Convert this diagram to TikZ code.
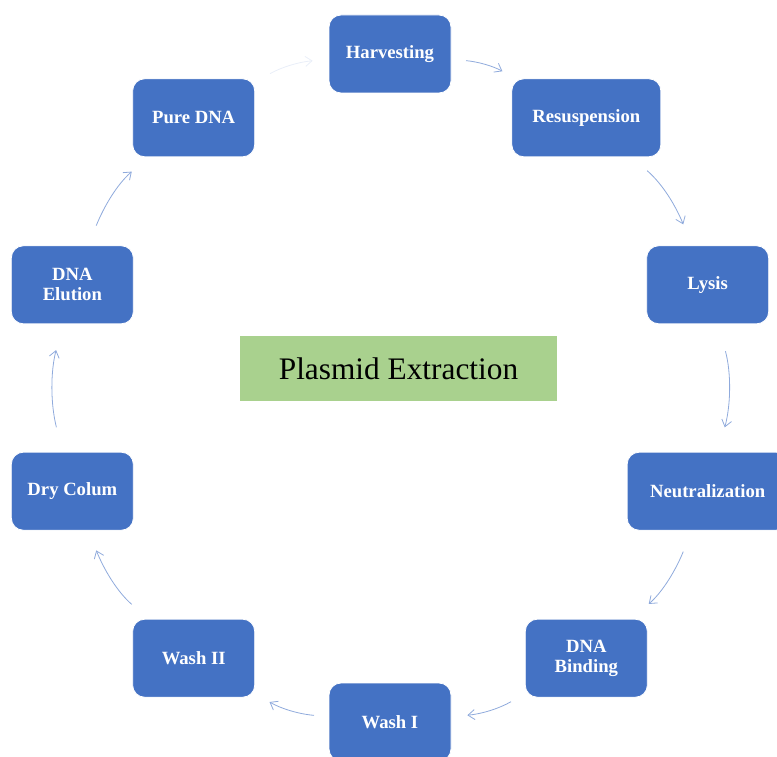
\documentclass[tikz,border=0pt]{standalone}
\usepackage{fontspec}
\setmainfont{Liberation Serif}
\usetikzlibrary{arrows.meta}
\definecolor{accent}{HTML}{4472C4}
\definecolor{leaf}{HTML}{A9D18E}
\definecolor{link}{HTML}{8FAADC}

\begin{document}
\begin{tikzpicture}[x=0.75pt,y=0.75pt,
  box/.style={draw=white,line width=0.6pt,fill=accent,rounded corners=9pt,
              minimum width=91.5pt,minimum height=58.5pt,align=center,
              text=white,font=\bfseries\fontsize{14}{15}\selectfont},
  title/.style={fill=leaf,minimum width=237.75pt,minimum height=48.75pt,
              font=\fontsize{23.5}{28}\selectfont},
  fl/.style={-{Straight Barb[length=5pt,width=7.5pt]},link,line width=0.6pt},
  gap/.style 2 args={shorten <=#1,shorten >=#2}]
\useasboundingbox (-390,-368) rectangle (387,388);
\node[title] (plasmid) at (8.5,19.5) {Plasmid Extraction};
\node[box] (harv) at (90:334) {Harvesting};
\node[box,minimum width=111.75pt] (resus) at (54:334) {Resuspension};
\node[box] (lysis) at (18:334) {Lysis};
\node[box,minimum width=120.75pt] (neut) at (-18:334) {Neutralization};
\node[box] (bind) at (-54:334) {DNA\\Binding};
\node[box] (washa) at (-90:334) {Wash I};
\node[box] (washb) at (-126:334) {Wash II};
\node[box] (dry) at (-162:334) {Dry Colum};
\node[box] (elut) at (162:334) {DNA\\Elution};
\node[box] (pure) at (126:334) {Pure DNA};
\draw[fl,gap={11pt}{11pt}] (harv) to[out=-5,in=151] (resus);
\draw[fl,gap={15.5pt}{17pt}] (resus) to[out=-41,in=112] (lysis);
\draw[fl,gap={21pt}{19pt}] (lysis) to[out=-75,in=75] (neut);
\draw[fl,gap={17pt}{17pt}] (neut) to[out=-112,in=41] (bind);
\draw[fl,gap={12pt}{12pt}] (bind) to[out=-150,in=5] (washa);
\draw[fl,gap={11pt}{12.5pt}] (washa) to[out=175,in=-30] (washb);
\draw[fl,gap={16.5pt}{16pt}] (washb) to[out=139,in=-68] (dry);
\draw[fl,gap={19pt}{20pt}] (dry) to[out=104,in=-104] (elut);
\draw[fl,gap={16pt}{16.5pt}] (elut) to[out=68,in=-139] (pure);
\draw[fl,link!20,gap={13pt}{12pt}] (pure) to[out=30,in=-175] (harv);
\end{tikzpicture}
\end{document}
